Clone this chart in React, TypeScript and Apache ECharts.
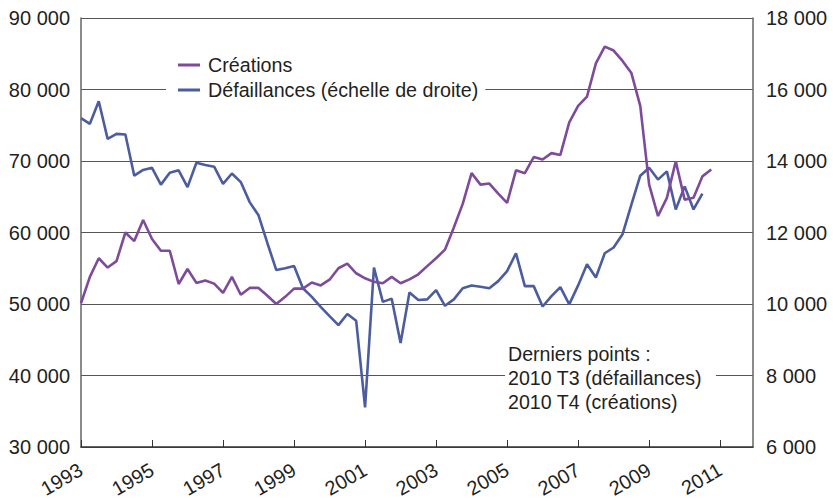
import React, { useEffect, useRef } from "react";
import * as echarts from "echarts";

// Quarterly data, 1993 T1 .. 2010 T4
const startYear = 1993;
const creations = [
  50100, 53800, 56400, 55100, 56000, 60000, 58800, 61750,
  59100, 57450, 57450, 52800, 54900, 52950, 53300, 52850,
  51550, 53800, 51300, 52250, 52250, 51150, 50000, 51000,
  52150, 52150, 53000, 52600, 53400, 55000, 55650, 54300,
  53600, 53100, 52900, 53800, 52900, 53450, 54150, 55300,
  56400, 57600, 60700, 64000, 68300, 66700, 66850, 65450,
  64150, 68700, 68300, 70550, 70200, 71100, 70850, 75400,
  77700, 79000, 83650, 86000, 85450, 84000, 82300, 77700,
  66700, 62300, 64850, 69950, 64600, 64850, 67850, 68800,
];
const defaillances = [
  15200, 15040, 15670, 14620, 14760, 14740, 13590, 13750,
  13810, 13340, 13670, 13740, 13270, 13950, 13890, 13840,
  13360, 13650, 13410, 12850, 12480, 11700, 10950, 11000,
  11060, 10440, 10200, 9920, 9660, 9410, 9720, 9530,
  7110, 11020, 10060, 10150, 8910, 10320, 10110, 10130,
  10390, 9950, 10130, 10440, 10520, 10480, 10440, 10640,
  10920, 11420, 10500, 10500, 9930, 10220, 10470, 9990,
  10520, 11110, 10740, 11420, 11580, 11950, 12780, 13590,
  13810, 13480, 13710, 12645, 13290, 12645, 13090,
];
const seriesNames = ["Créations", "Défaillances (échelle de droite)"];
const noteLines = ["Derniers points :", "2010 T3 (défaillances)", "2010 T4 (créations)"];

const FONT = "'Liberation Sans', Arial, sans-serif";
const TEXT = "#231f20";

const fmt = (v: number) => `${Math.round(v / 1000)} 000`;

export default function App() {
  const ref = useRef<HTMLDivElement>(null);
  useEffect(() => {
    document.body.style.margin = "0";
    if (!ref.current) return;
    const chart = echarts.init(ref.current, undefined, { renderer: "svg" });
    chart.setOption({
      animation: false,
      backgroundColor: "#fff",
      textStyle: { fontFamily: FONT, color: TEXT },
      grid: { left: 81, right: 80, top: 18, bottom: 54, containLabel: false },
      legend: {
        orient: "vertical",
        left: 166,
        top: 51,
        padding: [4, 7, 4, 12],
        backgroundColor: "#fff",
        itemGap: 5,
        itemWidth: 22,
        itemHeight: 3,
        icon: "rect",
        textStyle: { fontFamily: FONT, fontSize: 19.7, color: TEXT, lineHeight: 20, padding: [0, 0, 0, 3] },
        data: seriesNames,
      },
      xAxis: {
        type: "value",
        min: 0,
        max: 75.7,
        interval: 8,
        axisLine: { show: true, lineStyle: { color: "#333", width: 1.5 } },
        axisTick: { show: true, inside: true, length: 7, lineStyle: { color: "#333", width: 1 } },
        splitLine: { show: false },
        axisLabel: {
          rotate: 30,
          margin: 21,
          fontSize: 20,
          fontFamily: FONT,
          color: TEXT,
          showMaxLabel: false,
          formatter: (v: number) => (v % 8 === 0 ? String(startYear + v / 4) : ""),
        },
      },
      yAxis: [
        {
          type: "value",
          min: 30000,
          max: 90000,
          interval: 10000,
          axisLine: { show: true, lineStyle: { color: "#666", width: 1.5 } },
          axisTick: { show: false },
          splitLine: { show: true, lineStyle: { color: "#555", width: 1 } },
          axisLabel: { fontSize: 20, fontFamily: FONT, color: TEXT, margin: 11, formatter: fmt },
        },
        {
          type: "value",
          min: 6000,
          max: 18000,
          interval: 2000,
          position: "right",
          axisLine: { show: true, lineStyle: { color: "#666", width: 1.5 } },
          axisTick: { show: false },
          splitLine: { show: false },
          axisLabel: { fontSize: 20, fontFamily: FONT, color: TEXT, margin: 13, formatter: fmt },
        },
      ],
      series: [
        {
          name: seriesNames[0],
          type: "line",
          yAxisIndex: 0,
          data: creations.map((v, i) => [i, v]),
          showSymbol: false,
          symbol: "none",
          lineStyle: { color: "#7e4b9b", width: 2.6 },
          itemStyle: { color: "#7e4b9b" },
          z: 3,
        },
        {
          name: seriesNames[1],
          type: "line",
          yAxisIndex: 1,
          data: defaillances.map((v, i) => [i, v]),
          showSymbol: false,
          symbol: "none",
          lineStyle: { color: "#4b5d9f", width: 2.6 },
          itemStyle: { color: "#4b5d9f" },
          z: 2,
        },
      ],
      graphic: [
        {
          type: "rect",
          z: 50,
          shape: { x: 505, y: 340, width: 211, height: 76 },
          style: { fill: "#fff" },
        },
        {
          type: "text",
          z: 51,
          x: 508,
          y: 342,
          style: {
            text: noteLines.join("\n"),
            font: `19.6px ${FONT}`,
            fill: TEXT,
            lineHeight: 24,
          },
        },
      ],
    });
    return () => chart.dispose();
  }, []);
  return <div ref={ref} style={{ width: 833, height: 501 }} />;
}
